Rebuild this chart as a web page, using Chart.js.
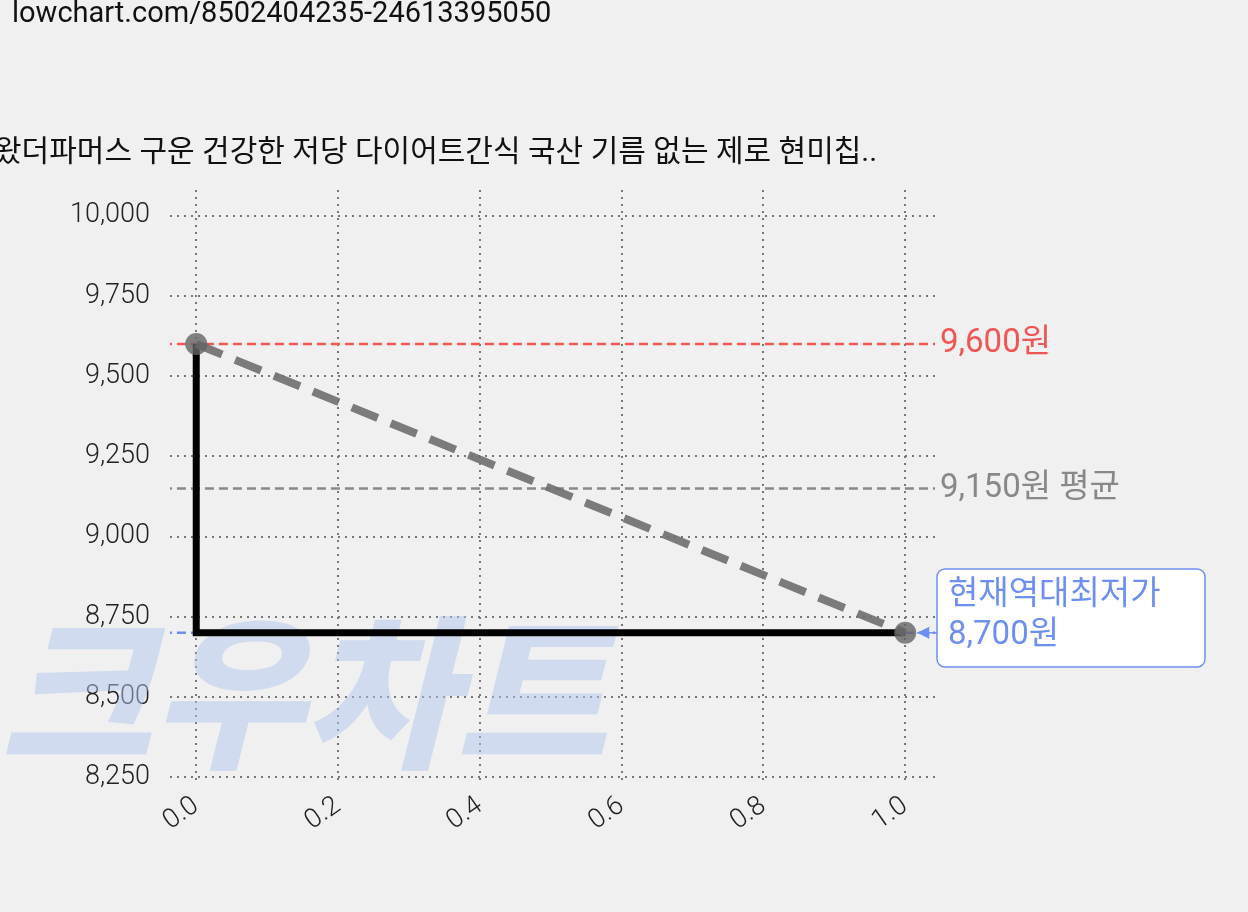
<!DOCTYPE html>
<html><head><meta charset="utf-8">
<script src="https://cdn.jsdelivr.net/npm/chart.js@4/dist/chart.umd.min.js"></script>
<style>body{margin:0;background:#f0f0f0}#c{display:block}</style>
</head><body>
<canvas id="c" width="1248" height="912"></canvas>
<script>
const xs = [0, 1];
const prices = [9600, 8700];
const stepPts = [[0, 9600], [0, 8700], [1, 8700]];
const maxPrice = 9600, avgPrice = 9150, minPrice = 8700;
const yTicks = [8250, 8500, 8750, 9000, 9250, 9500, 9750, 10000];
const xTicks = [0, 0.2, 0.4, 0.6, 0.8, 1.0];
const title = '왔더파머스 구운 건강한 저당 다이어트간식 국산 기름 없는 제로 현미칩..';
const url = 'lowchart.com/8502404235-24613395050';
const FONT = 'Roboto, "Noto Sans CJK KR", sans-serif';
const X0 = -0.037, X1 = 1.042;

const hline = (v, color) => ({ type: 'line', data: [{ x: X0 - 0.01, y: v }, { x: X1, y: v }], borderColor: color, borderWidth: 2.5, borderDash: [9, 5], pointRadius: 0, order: 5 });

const deco = {
  id: 'deco',
  beforeDraw(c) {
    const g = c.ctx;
    g.save();
    g.fillStyle = '#f0f0f0'; g.fillRect(0, 0, c.width, c.height);
    g.fillStyle = '#111'; g.font = '29px ' + FONT; g.textBaseline = 'middle';
    g.fillText(url, 12, 15);
    g.font = '30px ' + FONT;
    g.fillText(title, -6, 153);
    g.restore();
  },
  beforeDatasetsDraw(c) {
    const g = c.ctx;
    g.save();
    g.fillStyle = 'rgba(175,198,240,0.5)';
    g.font = 'italic 900 165px "Noto Sans CJK KR"'; g.textBaseline = 'alphabetic';
    g.fillText('크우차트', 0, 755);
    g.restore();
  },
  afterDraw(c) {
    const g = c.ctx, sx = c.scales.x, sy = c.scales.y;
    g.save();
    g.font = '33px ' + FONT; g.textBaseline = 'middle';
    const lx = sx.right + 5;
    g.fillStyle = '#f05555'; g.fillText('9,600원', lx, sy.getPixelForValue(maxPrice));
    g.fillStyle = '#888'; g.fillText('9,150원 평균', lx, sy.getPixelForValue(avgPrice));
    const py = sy.getPixelForValue(minPrice), px = sx.getPixelForValue(1);
    g.beginPath(); g.roundRect(937, 569, 268, 98, 8);
    g.fillStyle = '#fff'; g.fill(); g.strokeStyle = '#6d8ff0'; g.lineWidth = 1.5; g.stroke();
    g.fillStyle = '#6d8ff0';
    g.fillText('현재역대최저가', 948, 596); g.fillText('8,700원', 948, 636);
    g.beginPath(); g.moveTo(937, py); g.lineTo(px + 12, py); g.stroke();
    g.beginPath(); g.moveTo(px + 12, py); g.lineTo(px + 24, py - 6); g.lineTo(px + 24, py + 6); g.closePath(); g.fill();
    g.restore();
  }
};

new Chart(document.getElementById('c'), {
  type: 'line',
  data: {
    datasets: [
      hline(maxPrice, '#f05555'),
      hline(avgPrice, '#888'),
      hline(minPrice, '#6d8ff0'),
      { data: stepPts.map(p => ({ x: p[0], y: p[1] })), borderColor: '#000', borderWidth: 7, pointRadius: 0, order: 3 },
      { data: xs.map((x, i) => ({ x, y: prices[i] })), borderColor: 'rgba(110,110,110,0.9)', borderWidth: 8, borderDash: [28, 14],
        pointRadius: 11, pointBackgroundColor: 'rgba(100,100,100,0.8)', pointBorderWidth: 0, order: 1 }
    ]
  },
  options: {
    responsive: false, animation: false,
    layout: { padding: { top: 190, right: 313, bottom: 30, left: 0 } },
    plugins: { legend: { display: false }, tooltip: { enabled: false } },
    scales: {
      x: {
        type: 'linear', min: X0, max: X1,
        afterBuildTicks: s => { s.ticks = xTicks.map(v => ({ value: v })); },
        afterFit: s => { s.height = 100; },
        border: { display: false, dash: [2, 5] },
        grid: { color: '#777', lineWidth: 2, drawTicks: false },
        ticks: { color: '#222', font: { size: 27, family: FONT, weight: 300 }, maxRotation: 35, minRotation: 35, padding: 8,
          callback: v => v.toFixed(1) }
      },
      y: {
        min: 8235, max: 10080,
        afterBuildTicks: s => { s.ticks = yTicks.map(v => ({ value: v })); },
        afterFit: s => { s.width = 170; },
        border: { display: false, dash: [2, 5] },
        grid: { color: '#777', lineWidth: 2, drawTicks: false },
        ticks: { color: '#222', font: { size: 27, family: FONT, weight: 300 }, padding: 20,
          callback: v => v.toLocaleString('en-US') }
      }
    }
  },
  plugins: [deco]
});
</script>
</body></html>
